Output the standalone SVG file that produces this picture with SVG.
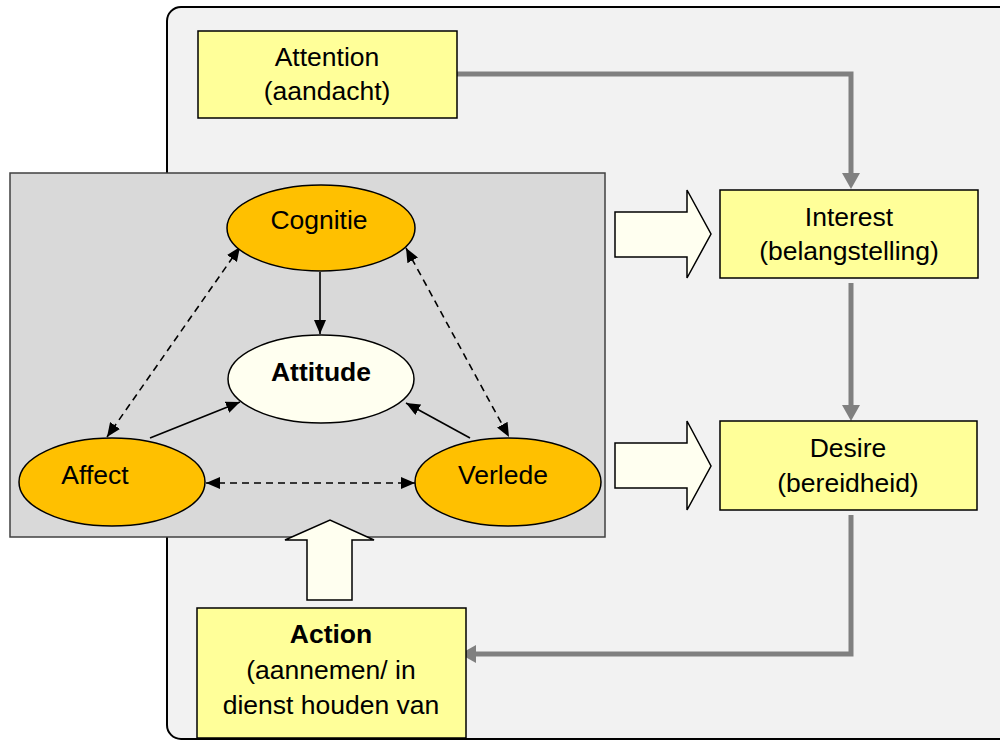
<svg xmlns="http://www.w3.org/2000/svg" width="1000" height="742" viewBox="0 0 1000 742">
  <defs>
    <marker id="ah" viewBox="0 0 14 12" markerWidth="14" markerHeight="12" refX="14" refY="6" orient="auto-start-reverse" markerUnits="userSpaceOnUse">
      <path d="M0,0 L14,6 L0,12 z" fill="#000"/>
    </marker>
    <marker id="gh" viewBox="0 0 16 18" markerWidth="16" markerHeight="18" refX="6" refY="9" orient="auto" markerUnits="userSpaceOnUse">
      <path d="M0,0 L16,9 L0,18 z" fill="#808080"/>
    </marker>
  </defs>
  <style>
    text { font-family: "Liberation Sans", Arial, sans-serif; font-size: 26.5px; fill: #000; text-anchor: middle; }
    .b { font-weight: bold; }
    .box { fill: #ffff99; stroke: #000; stroke-width: 1.5; }
    .ell { fill: #ffc000; stroke: #000; stroke-width: 1.5; }
    .blk { fill: #fffff0; stroke: #000; stroke-width: 1.5; }
    .gc { fill: none; stroke: #808080; stroke-width: 5; }
    .sl { fill: none; stroke: #000; stroke-width: 1.6; }
    .dl { fill: none; stroke: #000; stroke-width: 1.6; stroke-dasharray: 7 5; }
  </style>

  <rect width="1000" height="742" fill="#fff"/>
  <rect id="frame" x="167" y="7" width="850" height="732" rx="14" ry="14" fill="#f2f2f2" stroke="#000" stroke-width="2"/>

  <g id="attitude-model">
    <rect x="10" y="173" width="595" height="364" fill="#d9d9d9" stroke="#404040" stroke-width="1.5"/>
  </g>

  <g id="connectors">
    <path class="gc" d="M457,74 H851 V179" marker-end="url(#gh)"/>
    <path class="gc" d="M851,283 V411" marker-end="url(#gh)"/>
    <path class="gc" d="M851,515 V654 H470" marker-end="url(#gh)"/>
    <path class="sl" d="M320,272 L320,334" marker-end="url(#ah)"/>
    <path class="sl" d="M150,438 L240,402" marker-end="url(#ah)"/>
    <path class="sl" d="M470,438 L406,403" marker-end="url(#ah)"/>
    <path class="dl" d="M240,247 L107,437" marker-start="url(#ah)" marker-end="url(#ah)"/>
    <path class="dl" d="M406,248 L509,437" marker-start="url(#ah)" marker-end="url(#ah)"/>
    <path class="dl" d="M206,483 L415,483" marker-start="url(#ah)" marker-end="url(#ah)"/>
    <polygon class="blk" points="615,212 687,212 687,190 711,234 687,278 687,257 615,257"/>
    <polygon class="blk" points="615,443 687,443 687,421 711,466 687,510 687,488 615,488"/>
    <polygon class="blk" points="307,600 307,540 285,540 330,520 374,540 352,540 352,600"/>
  </g>

  <g id="attention">
    <rect class="box" x="198" y="31" width="259" height="87"/>
    <text x="327" y="66">Attention</text>
    <text x="327" y="100">(aandacht)</text>
  </g>
  <g id="interest">
    <rect class="box" x="720" y="190" width="258" height="88"/>
    <text x="849" y="226">Interest</text>
    <text x="849" y="260">(belangstelling)</text>
  </g>
  <g id="desire">
    <rect class="box" x="720" y="421" width="257" height="89"/>
    <text x="848" y="457">Desire</text>
    <text x="848" y="492">(bereidheid)</text>
  </g>
  <g id="action">
    <rect class="box" x="197" y="608" width="269" height="130"/>
    <text class="b" x="331" y="643">Action</text>
    <text x="331" y="679">(aannemen/ in</text>
    <text x="331" y="714">dienst houden van</text>
  </g>

  <g id="cognitie">
    <ellipse class="ell" cx="321" cy="228" rx="94" ry="43"/>
    <text x="319" y="229">Cognitie</text>
  </g>
  <g id="attitude">
    <ellipse cx="321" cy="379" rx="93" ry="44" fill="#fffff0" stroke="#000" stroke-width="1.5"/>
    <text class="b" x="321" y="381">Attitude</text>
  </g>
  <g id="affect">
    <ellipse class="ell" cx="112" cy="482" rx="93" ry="44"/>
    <text x="95" y="484">Affect</text>
  </g>
  <g id="verlede">
    <ellipse class="ell" cx="508" cy="482" rx="93" ry="44"/>
    <text x="503" y="484">Verlede</text>
  </g>
</svg>
